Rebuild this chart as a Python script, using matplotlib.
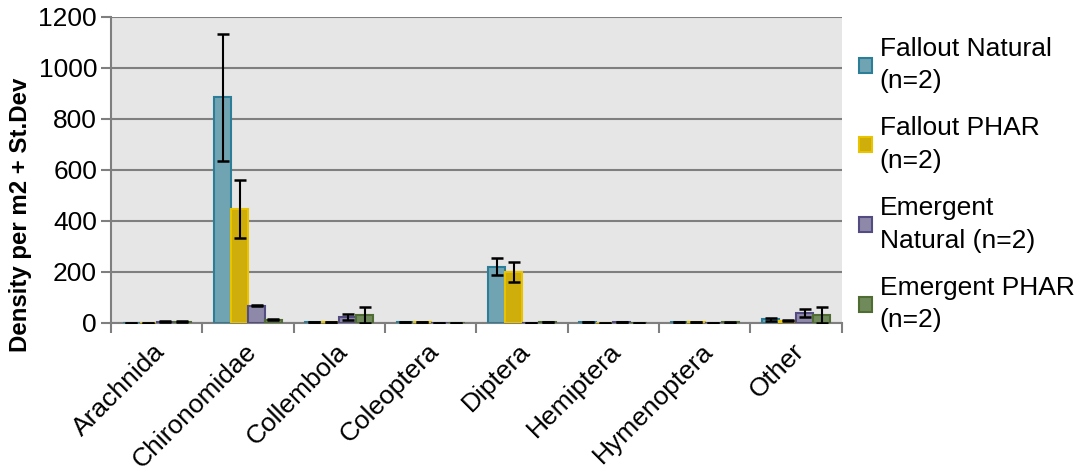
import numpy as np
import matplotlib.pyplot as plt
import matplotlib.transforms as mtransforms

plt.rcParams['font.family'] = ['Liberation Sans', 'DejaVu Sans']

groups = ['Arachnida', 'Chironomidae', 'Collembola', 'Coleoptera',
          'Diptera', 'Hemiptera', 'Hymenoptera', 'Other']

series_names = ['Fallout Natural\n(n=2)', 'Fallout PHAR\n(n=2)',
                'Emergent\nNatural (n=2)', 'Emergent PHAR\n(n=2)']

fallout_natural = [0, 885, 2, 2, 220, 2, 2, 13]
fallout_natural_sd = [0, 249, 1, 1, 33, 1, 1, 7]
fallout_phar = [0, 447, 2, 2, 200, 0, 2, 7]
fallout_phar_sd = [0, 115, 1, 1, 40, 0, 1, 2]
emergent_natural = [4, 67, 24, 0, 0, 2, 0, 38]
emergent_natural_sd = [2, 2, 12, 0, 0, 1, 0, 14]
emergent_phar = [4, 12, 30, 0, 2, 0, 1, 30]
emergent_phar_sd = [2, 2, 32, 0, 1, 0, 1, 32]

means = [fallout_natural, fallout_phar, emergent_natural, emergent_phar]
sds = [fallout_natural_sd, fallout_phar_sd, emergent_natural_sd, emergent_phar_sd]
fills = ['#71a4b3', '#cfae0b', '#8e89a9', '#708a5b']
edges = ['#2c7d98', '#e8c400', '#524c83', '#4f6c33']

fig = plt.figure(figsize=(10.74, 4.73), dpi=100)
ax = fig.add_axes([111 / 1074, 1 - 322.7 / 473, (841.7 - 111) / 1074, (322.7 - 17) / 473])
ax.set_facecolor('#e6e6e6')

x = np.arange(len(groups))
w = 0.186
for k in range(4):
    pos = x + (k - 1.5) * w
    ax.bar(pos, means[k], width=w, color=fills[k], edgecolor=edges[k],
           linewidth=1.5, label=series_names[k], zorder=3)
    ax.errorbar(pos, means[k], yerr=sds[k], fmt='none', ecolor='black',
                elinewidth=1.5, capsize=4.5, capthick=1.8, zorder=4)

ax.set_xlim(-0.5, len(groups) - 0.5)
ax.set_ylim(0, 1200)
ax.set_yticks(np.arange(0, 1201, 200))
ax.yaxis.grid(True, color='#7f7f7f', linewidth=1.5, zorder=1)
ax.set_axisbelow(True)

# category boundaries carry the tick marks, names sit in between
ax.set_xticks(np.arange(-0.5, len(groups)), labels=[])
ax.set_xticks(x, labels=groups, minor=True)
ax.tick_params(axis='x', which='major', length=7, width=1.5, color='#7f7f7f')
ax.tick_params(axis='x', which='minor', length=0, pad=12, labelsize=19,
               labelrotation=45)
shift = mtransforms.ScaledTranslation(-4 / 100, 0, fig.dpi_scale_trans)
for lab in ax.get_xticklabels(minor=True):
    lab.set_ha('right')
    lab.set_va('top')
    lab.set_rotation_mode('anchor')
    lab.set_transform(lab.get_transform() + shift)
ax.tick_params(axis='y', length=7, width=1.5, color='#7f7f7f', labelsize=19, pad=3)

for s in ['top', 'right']:
    ax.spines[s].set_visible(False)
for s in ['left', 'bottom']:
    ax.spines[s].set_color('#7f7f7f')
    ax.spines[s].set_linewidth(1.5)

ax.set_ylabel('Density per m2 + St.Dev', fontsize=17.3, fontweight='bold')
ax.yaxis.set_label_coords(-0.108, 0.352)

leg = fig.legend(loc='upper left', bbox_to_anchor=(848 / 1074, 1 - 26 / 473),
                 frameon=False, fontsize=19, handlelength=0.5, handleheight=0.5,
                 handletextpad=0.3, labelspacing=0.87, borderaxespad=0)
for t in leg.get_texts():
    t.set_linespacing(1.46)

fig.savefig('out.png', dpi=100)
